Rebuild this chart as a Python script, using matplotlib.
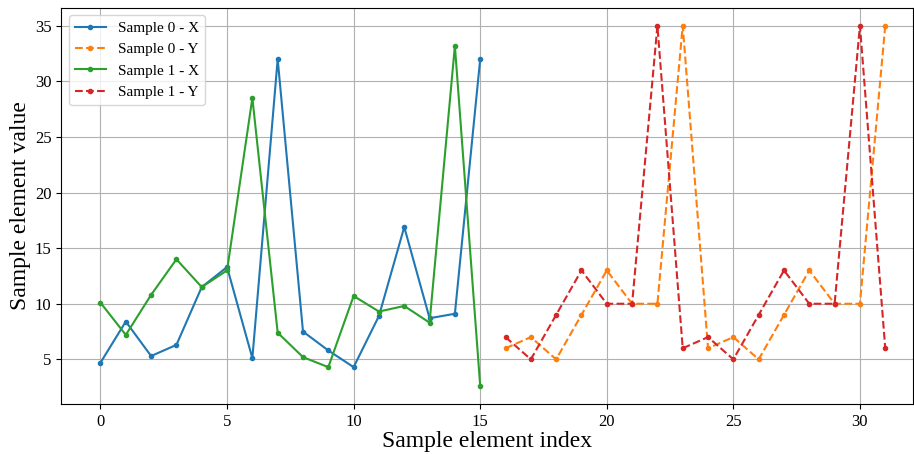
import matplotlib
matplotlib.use("Agg")
import matplotlib.pyplot as plt
import numpy as np

plt.rcParams["font.family"] = ["Liberation Serif", "DejaVu Serif"]

# element values for each sample, X part (indices 0-15) and Y part (indices 16-31)
sample0_x = [4.7, 8.4, 5.3, 6.3, 11.5, 13.3, 5.1, 32.0,
             7.5, 5.8, 4.3, 8.9, 16.9, 8.7, 9.1, 32.0]
sample1_x = [10.1, 7.2, 10.8, 14.0, 11.5, 13.0, 28.5, 7.4,
             5.2, 4.3, 10.7, 9.3, 9.8, 8.3, 33.2, 2.6]
sample0_y = [6, 7, 5, 9, 13, 10, 10, 35, 6, 7, 5, 9, 13, 10, 10, 35]
sample1_y = [7, 5, 9, 13, 10, 10, 35, 6, 7, 5, 9, 13, 10, 10, 35, 6]

x_idx = np.arange(len(sample0_x))
y_idx = np.arange(len(sample0_x), len(sample0_x) + len(sample0_y))

fig = plt.figure(figsize=(9.14, 4.54), dpi=100)
ax = fig.add_axes([0.067, 0.110, 0.932, 0.873])

ax.plot(x_idx, sample0_x, "-", marker=".", ms=6, lw=1.5, color="tab:blue", label="Sample 0 - X")
ax.plot(y_idx, sample0_y, "--", marker=".", ms=6, lw=1.5, color="tab:orange", label="Sample 0 - Y")
ax.plot(x_idx, sample1_x, "-", marker=".", ms=6, lw=1.5, color="tab:green", label="Sample 1 - X")
ax.plot(y_idx, sample1_y, "--", marker=".", ms=6, lw=1.5, color="tab:red", label="Sample 1 - Y")

ax.set_xlim(-1.55, 32.1)
ax.grid(True)
ax.tick_params(labelsize=12)
ax.set_xlabel("Sample element index", fontsize=17, labelpad=1)
ax.set_ylabel("Sample element value", fontsize=17, labelpad=3)
ax.legend(loc="upper left", fontsize=11)

fig.savefig("out.png", dpi=100)
